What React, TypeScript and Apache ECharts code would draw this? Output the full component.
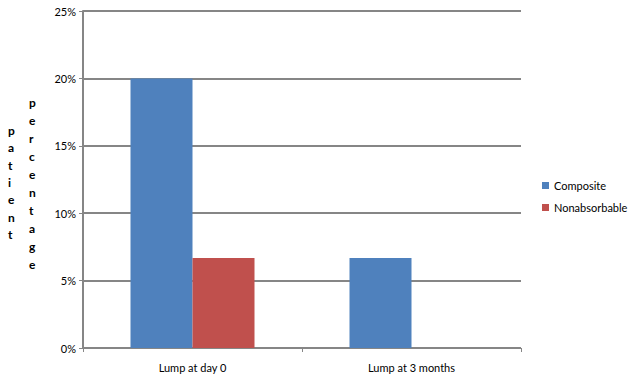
import React, { useEffect, useRef } from "react";
import * as echarts from "echarts";

const categories = ["Lump at day 0", "Lump at 3 months"];
const composite = [20, 6.67];
const nonabsorbable = [6.67, 0];
const yTicks = [0, 5, 10, 15, 20, 25];
const titleLeft = "patient";
const titleRight = "percentage";

export default function App() {
  const ref = useRef<HTMLDivElement>(null);
  useEffect(() => {
    if (!ref.current) return;
    const chart = echarts.init(ref.current, null, { renderer: "svg" });
    const font = "Lato, 'Open Sans', sans-serif";
    chart.setOption({
      animation: false,
      backgroundColor: "#fff",
      textStyle: { fontFamily: font },
      grid: { left: 83, right: 116, top: 11, bottom: 34 },
      legend: {
        orient: "vertical",
        left: 537,
        top: 175,
        itemWidth: 7,
        itemHeight: 7,
        itemGap: 11,
        icon: "rect",
        textStyle: { fontSize: 11, color: "#000", fontFamily: font },
        data: ["Composite", "Nonabsorbable"],
      },
      xAxis: {
        type: "category",
        data: categories,
        axisLine: { lineStyle: { color: "#868686", width: 1 } },
        axisTick: { show: true, length: 4, lineStyle: { color: "#868686" } },
        axisLabel: { color: "#000", fontSize: 11, margin: 14, fontFamily: font },
      },
      yAxis: {
        type: "value",
        min: yTicks[0],
        max: yTicks[yTicks.length - 1],
        interval: 5,
        axisLine: { show: true, lineStyle: { color: "#868686", width: 2 } },
        axisTick: { show: true, length: 4, lineStyle: { color: "#868686" } },
        axisLabel: { color: "#000", fontSize: 11, margin: 7, formatter: "{value}%", fontFamily: font },
        splitLine: { lineStyle: { color: "#868686", width: 2 } },
      },
      series: [
        {
          name: "Composite",
          type: "bar",
          data: composite,
          barWidth: 62,
          barGap: "0%",
          itemStyle: { color: "#4F81BD" },
        },
        {
          name: "Nonabsorbable",
          type: "bar",
          data: nonabsorbable,
          barWidth: 62,
          barGap: "0%",
          itemStyle: { color: "#C0504D" },
        },
      ],
      graphic: [
        {
          type: "text",
          left: 8,
          top: 122,
          style: {
            text: titleLeft.split("").join("\n"),
            font: `bold 12px ${font}`,
            fill: "#000",
            lineHeight: 17.3,
            align: "center",
          },
        },
        {
          type: "text",
          left: 29,
          top: 94,
          style: {
            text: titleRight.split("").join("\n"),
            font: `bold 12px ${font}`,
            fill: "#000",
            lineHeight: 17.9,
            align: "center",
          },
        },
      ],
    });
    return () => chart.dispose();
  }, []);
  return <div ref={ref} style={{ width: 637, height: 382, position: "absolute", left: 0, top: 0 }} />;
}
